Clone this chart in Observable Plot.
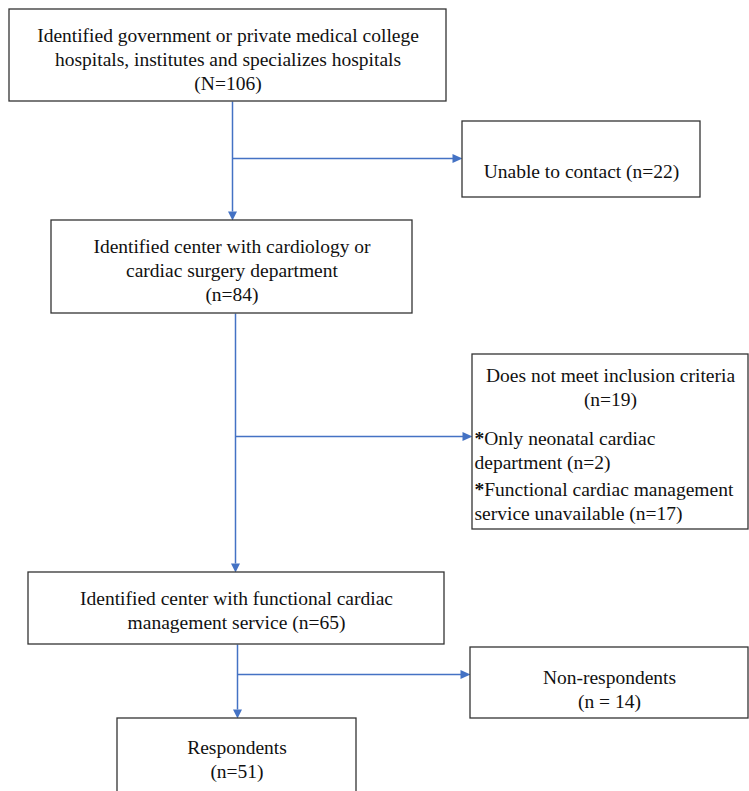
<!DOCTYPE html>
<html><head><meta charset="utf-8">
<script src="https://cdn.jsdelivr.net/npm/d3@7"></script>
<script src="https://cdn.jsdelivr.net/npm/@observablehq/plot@0.6"></script>
<style>body{margin:0;background:#fff;overflow:hidden}</style>
</head><body><div id="chart"></div>
<script>
// ---- values ----
const stageNames = [
  "Identified government or private medical college\nhospitals, institutes and specializes hospitals",
  "Identified center with cardiology or\ncardiac surgery department",
  "Identified center with functional cardiac\nmanagement service",
  "Respondents"
];
const stageCountLabels = ["(N=106)", "(n=84)", "(n=65)", "(n=51)"];
const stageCountJoin = ["\n", "\n", " ", "\n"];
const exclusionNames = ["Unable to contact", "Does not meet inclusion criteria", "Non-respondents"];
const exclusionCountLabels = ["(n=22)", "(n=19)", "(n = 14)"];
const exclusionCountJoin = [" ", "\n", "\n"];
const reasonFirstLines = ["Only neonatal cardiac", "Functional cardiac management"];
const reasonSecondLines = ["department", "service unavailable"];
const reasonCountLabels = ["(n=2)", "(n=17)"];

// ---- layout (pixel geometry) ----
const stageBoxes = [[9, 446, 9, 101], [51, 412, 220, 313], [28, 444, 572, 644], [117, 356, 718, 812]];
const stageTextY = [58, 269, 608.5, 758];
const exclBoxes = [[462, 700, 121, 197], [472, 748, 354, 529], [470, 748, 647, 718]];
const exclTextY = [170, 386, 688];
const reasonY = [438, 489];
const reasonGap = 24.5;
const reasonX = 474;
const trunkX = [232, 235, 237];
const branchY = [158, 436, 674];

const blue = "#4472c4";
const font = "Liberation Serif";
const fs = 19.5;

const boxes = [
  ...stageBoxes.map(([x1, x2, y1, y2]) => ({x1, x2, y1, y2})),
  ...exclBoxes.map(([x1, x2, y1, y2]) => ({x1, x2, y1, y2}))
];
const texts = [
  ...stageNames.map((s, i) => ({x: (stageBoxes[i][0] + stageBoxes[i][1]) / 2, y: stageTextY[i], t: s + stageCountJoin[i] + stageCountLabels[i]})),
  ...exclusionNames.map((s, i) => ({x: (exclBoxes[i][0] + exclBoxes[i][1]) / 2, y: exclTextY[i], t: s + exclusionCountJoin[i] + exclusionCountLabels[i]}))
];
const reasonFirst = reasonFirstLines.map((s, i) => ({x: reasonX, y: reasonY[i], t: s}));
const reasonSecond = reasonSecondLines.map((s, i) => ({x: reasonX, y: reasonY[i] + reasonGap, t: s + " " + reasonCountLabels[i]}));

const segs = [];
const tris = [];
const ah = 9, aw = 4.5;
for (let i = 0; i < 3; i++) {
  const x = trunkX[i];
  const yTop = stageBoxes[i][3];
  const yBot = stageBoxes[i + 1][2];
  segs.push({x1: x, y1: yTop, x2: x, y2: yBot - ah});
  tris.push({id: "d" + i, x: x, y: yBot}, {id: "d" + i, x: x - aw, y: yBot - ah}, {id: "d" + i, x: x + aw, y: yBot - ah});
  const xr = exclBoxes[i][0];
  const y = branchY[i];
  segs.push({x1: x, y1: y, x2: xr - ah, y2: y});
  tris.push({id: "r" + i, x: xr, y: y}, {id: "r" + i, x: xr - ah - 1, y: y - aw}, {id: "r" + i, x: xr - ah - 1, y: y + aw});
}

const chart = Plot.plot({
  width: 749, height: 791, margin: 0,
  x: {type: "linear", domain: [0, 749], range: [0, 749], axis: null},
  y: {type: "linear", domain: [0, 791], range: [0, 791], axis: null},
  marks: [
    Plot.link(segs, {x1: "x1", y1: "y1", x2: "x2", y2: "y2", stroke: blue, strokeWidth: 1.5}),
    Plot.line(tris, {x: "x", y: "y", z: "id", fill: blue, stroke: "none"}),
    Plot.rect(boxes, {x1: "x1", x2: "x2", y1: "y1", y2: "y2", fill: "white", stroke: "#333", strokeWidth: 1.3}),
    Plot.text(texts, {x: "x", y: "y", text: "t", fontSize: fs, fontFamily: font, lineHeight: 1.24, fill: "#111"}),
    Plot.text(reasonFirst, {x: "x", y: "y", text: () => "*", fontSize: fs, fontFamily: font, fontWeight: "bold", textAnchor: "start", fill: "#111"}),
    Plot.text(reasonFirst, {x: "x", y: "y", dx: fs * 0.5, text: "t", fontSize: fs, fontFamily: font, textAnchor: "start", fill: "#111"}),
    Plot.text(reasonSecond, {x: "x", y: "y", text: "t", fontSize: fs, fontFamily: font, textAnchor: "start", fill: "#111"})
  ]
});
document.getElementById("chart").appendChild(chart);
</script>
</body></html>
